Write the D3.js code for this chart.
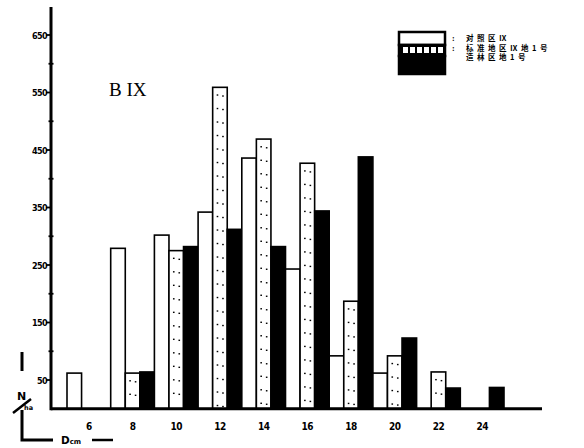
<!DOCTYPE html>
<html>
<head>
<meta charset="utf-8">
<script src="https://cdn.jsdelivr.net/npm/d3@7"></script>
<style>
  html, body { margin: 0; padding: 0; background: #fff; }
  svg { display: block; }
</style>
</head>
<body>
<svg id="chart" width="584" height="448"></svg>
<script>
// Diameter classes (cm) and stem counts per hectare for the three plots
const diameterClasses = [6, 8, 10, 12, 14, 16, 18, 20, 22, 24];
const seriesKeys = ["plainPlot", "dottedPlot", "solidPlot"];
const plainPlot  = [62, 279, 302, 342, 436, 243, 92, 62, 0, 0];
const dottedPlot = [0, 62, 275, 559, 469, 427, 187, 92, 64, 0];
const solidPlot  = [0, 64, 282, 312, 282, 344, 438, 123, 36, 37];
const majorTicks = [50, 150, 250, 350, 450, 550, 650];
const minorTicks = [100, 200, 300, 400, 500, 600];
const legendLabels = ["对照区Ⅸ", "标准地区Ⅸ地1号", "造林区地1号"];
const titleText = "B IX";

const rows = diameterClasses.map((d, i) => ({
  d, plainPlot: plainPlot[i], dottedPlot: dottedPlot[i], solidPlot: solidPlot[i]
}));

const svg = d3.select("#chart");
const axisX = 51, baseY = 408.75;

const y = d3.scaleLinear().domain([0, 700]).range([baseY, baseY - 700 * 0.575]);
const x = d3.scaleBand().domain(diameterClasses).range([67, 504]).padding(0);
const xs = d3.scaleBand().domain(seriesKeys).range([0, x.bandwidth()]).padding(0);

// bars
const g = svg.append("g");
const groups = g.selectAll("g.grp").data(rows).join("g")
  .attr("class", "grp")
  .attr("transform", d => `translate(${x(d.d)},0)`);

groups.each(function(row) {
  const sel = d3.select(this);
  seriesKeys.forEach(k => {
    const v = row[k];
    if (!v) return;
    const bx = xs(k), bw = xs.bandwidth();
    const top = y(v), h = baseY - y(v);
    sel.append("rect")
      .attr("x", bx).attr("y", top)
      .attr("width", bw).attr("height", h)
      .attr("fill", k === "solidPlot" ? "#000" : "#fff")
      .attr("stroke", "#000")
      .attr("stroke-width", 1.6);
    if (k === "dottedPlot") {
      // stipple texture
      const dots = d3.range(top + 7, baseY - 3, 13.5);
      dots.forEach(dy => {
        [bx + 4, bx + 9.5].forEach((dx, c) => {
          sel.append("rect")
            .attr("x", dx).attr("y", dy + (c ? 1 : 0))
            .attr("width", 1.6).attr("height", 1.4)
            .attr("fill", "#000");
        });
      });
    }
  });
});

// y axis
const yAxis = svg.append("g");
yAxis.append("line")
  .attr("x1", axisX).attr("x2", axisX)
  .attr("y1", 7).attr("y2", baseY + 1.5)
  .attr("stroke", "#000").attr("stroke-width", 3);
yAxis.selectAll("line.major").data(majorTicks).join("line")
  .attr("x1", axisX - 5).attr("x2", axisX)
  .attr("y1", d => y(d)).attr("y2", d => y(d))
  .attr("stroke", "#000").attr("stroke-width", 1.8);
yAxis.selectAll("line.minor").data(minorTicks).join("line")
  .attr("x1", axisX - 2.5).attr("x2", axisX + 2.5)
  .attr("y1", d => y(d)).attr("y2", d => y(d))
  .attr("stroke", "#000").attr("stroke-width", 1.8);
yAxis.selectAll("text").data(majorTicks).join("text")
  .attr("x", axisX - 4).attr("y", d => y(d) + 3.5)
  .attr("text-anchor", "end")
  .attr("font-family", "DejaVu Sans Condensed, DejaVu Sans, sans-serif")
  .attr("font-weight", "bold")
  .attr("font-size", 9)
  .attr("letter-spacing", -0.6)
  .text(d => d);

// x axis
svg.append("line")
  .attr("x1", axisX).attr("x2", 542)
  .attr("y1", baseY).attr("y2", baseY)
  .attr("stroke", "#000").attr("stroke-width", 3);
const xAxis = d3.axisBottom(x).tickSize(0).tickPadding(14);
const xg = svg.append("g").attr("transform", `translate(0,${baseY})`).call(xAxis);
xg.select(".domain").remove();
xg.selectAll("text")
  .attr("font-family", "DejaVu Sans Condensed, DejaVu Sans, sans-serif")
  .attr("font-weight", "bold")
  .attr("font-size", 10)
  .attr("letter-spacing", -0.5)
  .attr("fill", "#000");

// axis captions: N/ha and D cm
const cap = svg.append("g").attr("font-family", "DejaVu Sans, sans-serif").attr("font-weight", "bold");
cap.append("line").attr("x1", 22).attr("x2", 22).attr("y1", 352).attr("y2", 371)
  .attr("stroke", "#000").attr("stroke-width", 3);
cap.append("text").attr("x", 17).attr("y", 400).attr("font-size", 11).text("N");
cap.append("line").attr("x1", 13).attr("y1", 413).attr("x2", 31).attr("y2", 399)
  .attr("stroke", "#000").attr("stroke-width", 2.5);
cap.append("text").attr("x", 24).attr("y", 410).attr("font-size", 6.5).text("ha");
cap.append("path").attr("d", "M22,410V440H53")
  .attr("fill", "none").attr("stroke", "#000").attr("stroke-width", 3);
const dcm = cap.append("text").attr("x", 61).attr("y", 444).attr("font-size", 10.5);
dcm.append("tspan").text("D");
dcm.append("tspan").attr("font-size", 7).text("cm");
cap.append("line").attr("x1", 92).attr("x2", 113).attr("y1", 440).attr("y2", 440)
  .attr("stroke", "#000").attr("stroke-width", 2.5);

// title
svg.append("text")
  .attr("x", 109).attr("y", 96)
  .attr("font-family", "Liberation Serif, serif")
  .attr("font-size", 19)
  .attr("letter-spacing", 0)
  .text(titleText);

// legend
const leg = svg.append("g");
const swatch = [
  { y: 32, h: 13, fill: "#fff" },
  { y: 45, h: 11, fill: "dots" },
  { y: 56, h: 18, fill: "#000" }
];
leg.selectAll("rect.sw").data(swatch).join("rect")
  .attr("x", 399).attr("y", d => d.y)
  .attr("width", 46).attr("height", d => d.h)
  .attr("fill", d => d.fill === "dots" ? "#000" : d.fill)
  .attr("stroke", "#000").attr("stroke-width", 2.5);
// stipple strip inside the middle swatch
leg.selectAll("rect.st").data(d3.range(6)).join("rect")
  .attr("x", d => 403 + d * 7).attr("y", 47)
  .attr("width", 5).attr("height", 6)
  .attr("fill", "#fff");
leg.selectAll("text.colon").data([38, 48]).join("text")
  .attr("x", 452).attr("y", d => d + 3)
  .attr("font-size", 8).attr("font-weight", "bold")
  .text(":");
leg.selectAll("text.lbl").data(legendLabels).join("text")
  .attr("x", 466).attr("y", (d, i) => 41 + i * 9.5)
  .attr("font-family", "Noto Sans CJK SC, sans-serif")
  .attr("font-weight", "bold")
  .attr("font-size", 7.5)
  .attr("letter-spacing", 3.5)
  .text(d => d);
</script>
</body>
</html>
